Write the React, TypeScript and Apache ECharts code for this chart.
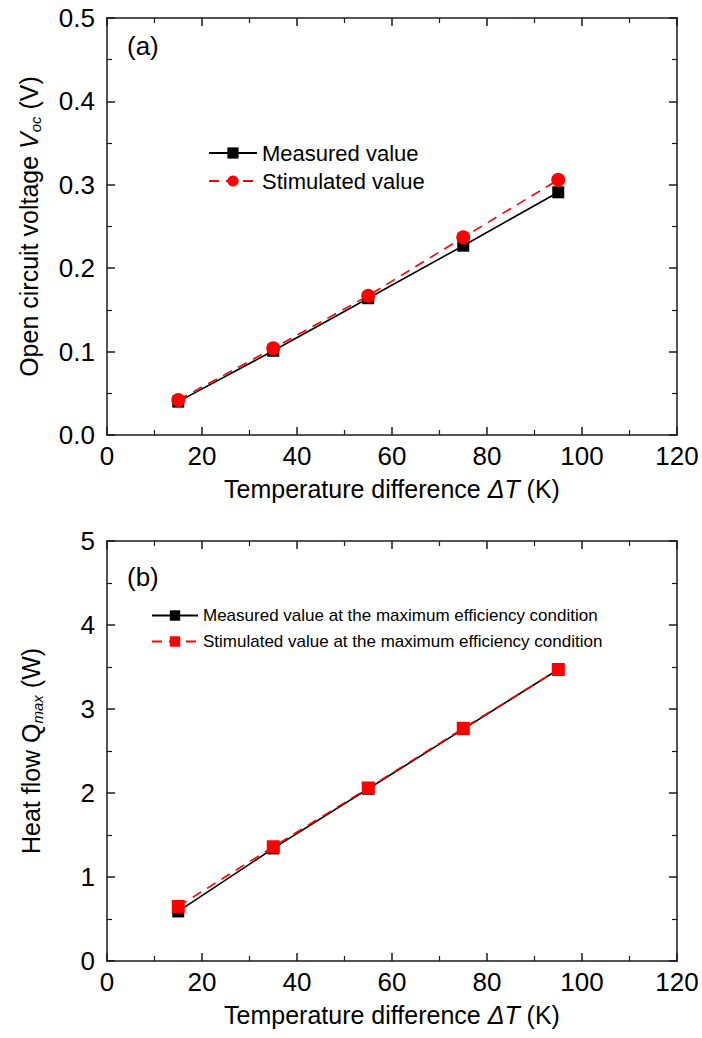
import React, { useEffect, useRef } from "react";
import * as echarts from "echarts";

const deltaT = [15, 35, 55, 75, 95];
const vocMeasured = [0.04, 0.101, 0.164, 0.227, 0.291];
const vocStimulated = [0.042, 0.104, 0.167, 0.237, 0.306];
const qMeasured = [0.59, 1.34, 2.05, 2.76, 3.47];
const qStimulated = [0.65, 1.36, 2.06, 2.77, 3.47];

const xTicks = { min: 0, max: 120, interval: 20 };
const vTicks = { min: 0, max: 0.5, interval: 0.1 };
const qTicks = { min: 0, max: 5, interval: 1 };

const FONT = "'Liberation Sans', Arial, sans-serif";
const AX = "#1a1a1a";

function pairs(xs: number[], ys: number[]) {
  return xs.map((x, i) => [x, ys[i]]);
}

function mainX(gridIndex: number) {
  return {
    type: "value",
    gridIndex,
    position: "bottom",
    ...xTicks,
    name: "{t|Temperature difference }{i|ΔT}{t| (K)}",
    nameLocation: "middle",
    nameGap: 41,
    nameTextStyle: {
      rich: {
        t: { fontFamily: FONT, fontSize: 25, color: "#000" },
        i: { fontFamily: FONT, fontSize: 25, color: "#000", fontStyle: "italic" },
      },
    },
    axisLine: { show: true, lineStyle: { color: AX, width: 1.5 } },
    axisTick: { show: true, inside: true, length: 8, lineStyle: { color: AX, width: 1.5 } },
    minorTick: { show: true, splitNumber: 2, length: 5, lineStyle: { color: AX, width: 1.2 } },
    axisLabel: { fontFamily: FONT, fontSize: 26, color: "#000", margin: 8 },
    splitLine: { show: false },
    minorSplitLine: { show: false },
  };
}

function mirrorX(gridIndex: number) {
  return {
    type: "value",
    gridIndex,
    position: "top",
    ...xTicks,
    axisLine: { show: true, onZero: false, lineStyle: { color: AX, width: 1.5 } },
    axisTick: { show: true, inside: true, length: 8, lineStyle: { color: AX, width: 1.5 } },
    minorTick: { show: true, splitNumber: 2, length: 5, lineStyle: { color: AX, width: 1.2 } },
    axisLabel: { show: false },
    splitLine: { show: false },
  };
}

function mainY(gridIndex: number, ticks: any, name: string, rich: any, fmt: (v: number) => string, gap: number) {
  return {
    type: "value",
    gridIndex,
    position: "left",
    ...ticks,
    name,
    nameLocation: "middle",
    nameGap: gap,
    nameRotate: 90,
    nameTextStyle: { rich },
    axisLine: { show: true, lineStyle: { color: AX, width: 1.5 } },
    axisTick: { show: true, inside: true, length: 8, lineStyle: { color: AX, width: 1.5 } },
    minorTick: { show: true, splitNumber: 2, length: 5, lineStyle: { color: AX, width: 1.2 } },
    axisLabel: { fontFamily: FONT, fontSize: 26, color: "#000", margin: 12, formatter: fmt },
    splitLine: { show: false },
    minorSplitLine: { show: false },
  };
}

function mirrorY(gridIndex: number, ticks: any) {
  return {
    type: "value",
    gridIndex,
    position: "right",
    ...ticks,
    axisLine: { show: true, onZero: false, lineStyle: { color: AX, width: 1.5 } },
    axisTick: { show: true, inside: true, length: 8, lineStyle: { color: AX, width: 1.5 } },
    minorTick: { show: true, splitNumber: 2, length: 5, lineStyle: { color: AX, width: 1.2 } },
    axisLabel: { show: false },
    splitLine: { show: false },
  };
}

export default function App() {
  const ref = useRef<HTMLDivElement>(null);
  useEffect(() => {
    if (!ref.current) return;
    const chart = echarts.init(ref.current, null, { renderer: "svg" });
    const richT = { fontFamily: FONT, fontSize: 25, color: "#000" };
    const richI = { fontFamily: FONT, fontSize: 25, color: "#000", fontStyle: "italic" };
    const richSub = { fontFamily: FONT, fontSize: 15, color: "#000", fontStyle: "italic", verticalAlign: "bottom", padding: [14, 0, 0, 0] };
    chart.setOption({
      animation: false,
      backgroundColor: "#fff",
      grid: [
        { left: 107, right: 25, top: 18, height: 417 },
        { left: 107, right: 25, top: 541, height: 420 },
      ],
      xAxis: [mainX(0), mirrorX(0), mainX(1), mirrorX(1)],
      yAxis: [
        mainY(0, vTicks, "{t|Open circuit voltage }{i|V}{s|oc}{t| (V)}", { t: richT, i: richI, s: richSub }, (v: number) => v.toFixed(1), 64),
        mirrorY(0, vTicks),
        mainY(1, qTicks, "{t|Heat flow Q}{s|max}{t| (W)}", { t: richT, i: richI, s: richSub }, (v: number) => String(v), 62),
        mirrorY(1, qTicks),
      ],
      legend: [
        {
          data: ["Measured value", "Stimulated value"],
          left: 203,
          top: 137,
          orient: "vertical",
          itemGap: 6,
          itemWidth: 48,
          itemHeight: 14,
          textStyle: { fontFamily: FONT, fontSize: 22, color: "#000" },
        },
        {
          data: [
            "Measured value at the maximum efficiency condition",
            "Stimulated value at the maximum efficiency condition",
          ],
          left: 146,
          top: 602,
          orient: "vertical",
          itemGap: 9,
          itemWidth: 46,
          itemHeight: 13,
          textStyle: { fontFamily: FONT, fontSize: 17, color: "#000" },
        },
      ],
      graphic: [
        { type: "text", left: 127, top: 33, style: { text: "(a)", fontFamily: FONT, fontSize: 26, fill: "#000" } },
        { type: "text", left: 127, top: 564, style: { text: "(b)", fontFamily: FONT, fontSize: 26, fill: "#000" } },
      ],
      series: [
        {
          name: "Measured value",
          type: "line",
          xAxisIndex: 0,
          yAxisIndex: 0,
          data: pairs(deltaT, vocMeasured),
          symbol: "rect",
          symbolSize: 12,
          itemStyle: { color: "#000" },
          lineStyle: { color: "#000", width: 1.6 },
        },
        {
          name: "Stimulated value",
          type: "line",
          xAxisIndex: 0,
          yAxisIndex: 0,
          data: pairs(deltaT, vocStimulated),
          symbol: "circle",
          symbolSize: 14,
          itemStyle: { color: "#ff0000" },
          lineStyle: { color: "#ff0000", width: 1.6, type: [10, 7] },
        },
        {
          name: "Measured value at the maximum efficiency condition",
          type: "line",
          xAxisIndex: 2,
          yAxisIndex: 2,
          data: pairs(deltaT, qMeasured),
          symbol: "rect",
          symbolSize: 12,
          itemStyle: { color: "#000" },
          lineStyle: { color: "#000", width: 1.6 },
        },
        {
          name: "Stimulated value at the maximum efficiency condition",
          type: "line",
          xAxisIndex: 2,
          yAxisIndex: 2,
          data: pairs(deltaT, qStimulated),
          symbol: "rect",
          symbolSize: 13,
          itemStyle: { color: "#ff0000" },
          lineStyle: { color: "#ff0000", width: 1.6, type: [10, 7] },
        },
      ],
    });
    return () => chart.dispose();
  }, []);
  return (
    <div
      ref={ref}
      style={{ position: "absolute", left: 0, top: 0, width: 702, height: 1038, background: "#fff" }}
    />
  );
}
